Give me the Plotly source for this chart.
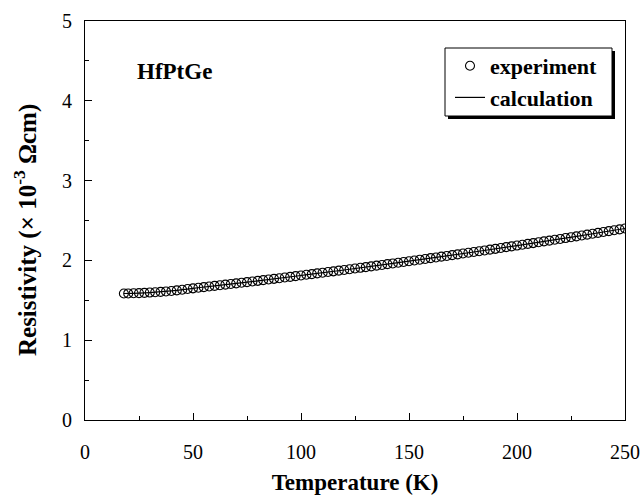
import plotly.graph_objects as go

# Experimental data (Temperature K, resistivity x10^-3 Ohm cm)
exp_T = [18, 20, 22.5, 25, 27.5, 30, 32.5, 35, 37.5, 40, 42.5, 45, 47.5,
         50, 52.5, 55, 57.5, 60, 62.5, 65, 67.5, 70, 72.5, 75, 77.5, 80, 82.5,
         85, 87.5, 90, 92.5, 95, 97.5, 100, 102.5, 105, 107.5, 110, 112.5, 115,
         117.5, 120, 122.5, 125, 127.5, 130, 132.5, 135, 137.5, 140, 142.5, 145,
         147.5, 150, 152.5, 155, 157.5, 160, 162.5, 165, 167.5, 170, 172.5, 175,
         177.5, 180, 182.5, 185, 187.5, 190, 192.5, 195, 197.5, 200, 202.5, 205,
         207.5, 210, 212.5, 215, 217.5, 220, 222.5, 225, 227.5, 230, 232.5, 235,
         237.5, 240, 242.5, 245, 247.5, 250]
exp_rho = [1.585, 1.586, 1.588, 1.590, 1.593, 1.597, 1.601, 1.606, 1.611, 1.617, 1.624, 1.632, 1.641,
           1.650, 1.657, 1.665, 1.673, 1.681, 1.688, 1.696, 1.704, 1.712, 1.720, 1.728, 1.736, 1.744, 1.753,
           1.761, 1.769, 1.777, 1.786, 1.794, 1.803, 1.811, 1.820, 1.828, 1.837, 1.845, 1.854, 1.863,
           1.872, 1.880, 1.889, 1.898, 1.907, 1.916, 1.925, 1.934, 1.943, 1.953, 1.962, 1.971,
           1.980, 1.990, 1.999, 2.009, 2.018, 2.028, 2.037, 2.047, 2.056, 2.066, 2.076, 2.086,
           2.096, 2.105, 2.115, 2.125, 2.135, 2.145, 2.155, 2.166, 2.176, 2.186, 2.196, 2.207,
           2.217, 2.227, 2.238, 2.248, 2.259, 2.269, 2.280, 2.291, 2.301, 2.312, 2.323, 2.334,
           2.345, 2.356, 2.367, 2.378, 2.389, 2.400]

# Calculation curve
calc_T = [18, 30, 40, 50, 60, 80, 100, 120, 140, 160, 180, 200, 220, 240, 250]
calc_rho = [1.585, 1.597, 1.617, 1.650, 1.681, 1.744, 1.811, 1.880, 1.953, 2.028,
            2.105, 2.186, 2.269, 2.356, 2.400]

x_ticks = [0, 50, 100, 150, 200, 250]
y_ticks = [0, 1, 2, 3, 4, 5]

FONT = "Times New Roman"

fig = go.Figure()
fig.add_trace(go.Scatter(
    x=exp_T, y=exp_rho, mode="markers", name="<b>experiment</b>",
    marker=dict(symbol="circle-open", size=9, color="black", line=dict(width=1.1, color="black")),
))
fig.add_trace(go.Scatter(
    x=calc_T, y=calc_rho, mode="lines", name="<b>calculation</b>",
    line=dict(color="black", width=1.2, shape="spline"),
))

axis_common = dict(
    showline=True, linecolor="black", linewidth=1.2, mirror=True,
    ticks="inside", ticklen=7, tickcolor="black", tickwidth=1,
    showgrid=False, zeroline=False, automargin=False,
    tickfont=dict(family=FONT, size=20, color="black"),
)

fig.update_xaxes(
    range=[0, 250], tickvals=x_ticks, ticktext=[str(v) for v in x_ticks],
    minor=dict(ticks="inside", ticklen=4, tickcolor="black", dtick=25, showgrid=False),
    ticklabelstandoff=14,
    title=dict(text="<b>Temperature (K)</b>", font=dict(family=FONT, size=23, color="black"), standoff=13),
    **axis_common,
)
fig.update_yaxes(
    range=[0, 5], tickvals=y_ticks, ticktext=[str(v) for v in y_ticks],
    minor=dict(ticks="inside", ticklen=4, tickcolor="black", dtick=0.5, showgrid=False),
    ticklabelstandoff=8,
    title=dict(text="<b>Resistivity (× 10<sup>-3</sup> Ωcm)\u00a0\u00a0\u00a0</b>",
               font=dict(family=FONT, size=25, color="black"), standoff=18),
    **axis_common,
)

fig.add_annotation(
    x=(135 - 85) / 540, y=1 - (71 - 21) / 399, xref="paper", yref="paper", xanchor="left", yanchor="middle",
    text="<b>HfPtGe</b>", showarrow=False, font=dict(family=FONT, size=23, color="black"),
)

def px_x(p):
    return (p - 85) / 540

def px_y(p):
    return 1 - (p - 21) / 399

# legend box: shadow then white frame
fig.add_shape(type="rect", xref="paper", yref="paper",
              x0=px_x(448), x1=px_x(615), y0=px_y(119), y1=px_y(51),
              fillcolor="black", line=dict(width=0), layer="above")
fig.add_shape(type="rect", xref="paper", yref="paper",
              x0=px_x(445), x1=px_x(612), y0=px_y(116), y1=px_y(48),
              fillcolor="white", line=dict(width=1, color="black"), layer="above")

fig.update_layout(
    width=642, height=495,
    margin=dict(l=85, r=17, t=21, b=75),
    paper_bgcolor="white", plot_bgcolor="white",
    showlegend=True,
    legend=dict(
        x=px_x(450), y=px_y(45), xanchor="left", yanchor="top",
        bgcolor="rgba(0,0,0,0)", borderwidth=0,
        font=dict(family=FONT, size=22, color="black"),
        itemwidth=30,
    ),
    font=dict(family=FONT, color="black"),
)

fig.write_html("out.html")
